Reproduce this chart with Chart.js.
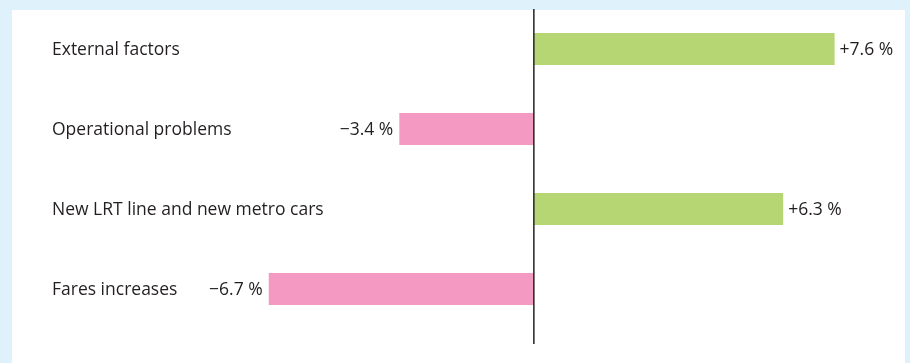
<!DOCTYPE html>
<html>
<head>
<meta charset="utf-8">
<script src="https://cdn.jsdelivr.net/npm/chart.js@4/dist/chart.umd.min.js"></script>
<style>
  html, body { margin: 0; padding: 0; background: #dff1fb; }
  #wrap { width: 910px; height: 363px; position: relative; }
</style>
</head>
<body>
<div id="wrap"><canvas id="barChart"></canvas></div>
<script>
const categories = ['External factors', 'Operational problems', 'New LRT line and new metro cars', 'Fares increases'];
const changes = [7.6, -3.4, 6.3, -6.7];

const GREEN = '#b5d673';
const PINK = '#f49ac2';
const TEXT = '#231f20';
const FONT = '17.5px "Open Sans", "Noto Sans", sans-serif';

// white panel, zero line, category names and value labels
const decor = {
  id: 'decor',
  beforeDraw(chart) {
    const c = chart.ctx;
    c.save();
    c.fillStyle = '#dff1fb';
    c.fillRect(0, 0, chart.width, chart.height);
    c.fillStyle = '#ffffff';
    c.fillRect(12, 10, 893, chart.height - 10);
    c.restore();
  },
  afterDatasetsDraw(chart) {
    const c = chart.ctx;
    const x = chart.scales.x;
    const y = chart.scales.y;
    const x0 = x.getPixelForValue(0);
    c.save();
    c.strokeStyle = '#222';
    c.lineWidth = 1.5;
    c.beginPath();
    c.moveTo(x0, 9);
    c.lineTo(x0, 344);
    c.stroke();

    c.font = FONT;
    c.fillStyle = TEXT;
    c.textBaseline = 'middle';
    categories.forEach((name, i) => {
      const yp = y.getPixelForValue(i) + 1;
      c.textAlign = 'left';
      c.fillText(name, 52, yp);
      const v = changes[i];
      const label = (v > 0 ? '+' : '\u2212') + Math.abs(v).toFixed(1) + ' %';
      const xe = x.getPixelForValue(v);
      if (v > 0) {
        c.textAlign = 'left';
        c.fillText(label, xe + 5, yp);
      } else {
        c.textAlign = 'right';
        c.fillText(label, xe - 6, yp);
      }
    });
    c.restore();
  }
};

const ctx = document.getElementById('barChart').getContext('2d');
const barChart = new Chart(ctx, {
  type: 'bar',
  data: {
    labels: categories,
    datasets: [{
      data: changes,
      backgroundColor: changes.map(v => v > 0 ? GREEN : PINK),
      borderWidth: 0,
      barPercentage: 0.4,
      categoryPercentage: 1
    }]
  },
  options: {
    indexAxis: 'y',
    responsive: true,
    maintainAspectRatio: false,
    animation: false,
    layout: { padding: { left: 59, right: 20, top: 9, bottom: 34 } },
    plugins: { legend: { display: false }, tooltip: { enabled: false } },
    scales: {
      x: { min: -12, max: 9, display: false },
      y: { display: false, offset: true }
    }
  },
  plugins: [decor]
});
</script>
</body>
</html>
